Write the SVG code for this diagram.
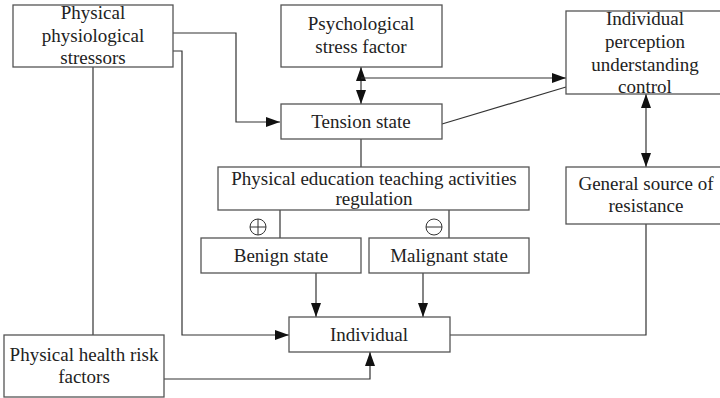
<svg xmlns="http://www.w3.org/2000/svg" width="720" height="398" viewBox="0 0 720 398">
<defs>
<marker id="ah" viewBox="0 0 14 10" refX="14" refY="5" markerWidth="14" markerHeight="10" markerUnits="userSpaceOnUse" orient="auto-start-reverse">
<path d="M0,0 L14,5 L0,10 z" fill="#111"/>
</marker>
</defs>
<rect width="720" height="398" fill="#fff"/>
<g id="connectors" fill="none" stroke="#333" stroke-width="1.2">
<polyline points="173,33 236,33 236,122 280,122" marker-end="url(#ah)"/>
<polyline points="173,51 182,51 182,335 289,335" marker-end="url(#ah)"/>
<line x1="93" y1="67" x2="93" y2="335"/>
<line x1="361" y1="67" x2="361" y2="104" marker-start="url(#ah)" marker-end="url(#ah)"/>
<line x1="361" y1="78" x2="566" y2="78" marker-end="url(#ah)"/>
<line x1="442" y1="124" x2="566" y2="87"/>
<line x1="361" y1="139" x2="361" y2="167"/>
<line x1="280" y1="210" x2="280" y2="238"/>
<line x1="449" y1="210" x2="449" y2="238"/>
<line x1="316" y1="273" x2="316" y2="317" marker-end="url(#ah)"/>
<line x1="423" y1="273" x2="423" y2="317" marker-end="url(#ah)"/>
<line x1="646" y1="94" x2="646" y2="167" marker-start="url(#ah)" marker-end="url(#ah)"/>
<polyline points="450,335 646,335 646,224"/>
<polyline points="164,379 370,379 370,352" marker-end="url(#ah)"/>
<g id="plus" stroke-width="1">
<circle cx="258" cy="227" r="8"/>
<line x1="250" y1="227" x2="266" y2="227"/>
<line x1="258" y1="219" x2="258" y2="235"/>
</g>
<g id="minus" stroke-width="1">
<circle cx="434" cy="227" r="8"/>
<line x1="426" y1="227" x2="442" y2="227"/>
</g>
</g>
<g id="boxes" fill="#fff" stroke="#555" stroke-width="1.3">
<rect id="b-physical" x="13" y="5" width="160" height="62"/>
<rect id="b-psych" x="281" y="5" width="161" height="62"/>
<rect id="b-perception" x="566" y="11" width="160" height="83"/>
<rect id="b-tension" x="281" y="104" width="161" height="35"/>
<rect id="b-pe" x="218" y="167" width="311" height="43"/>
<rect id="b-benign" x="201" y="238" width="160" height="35"/>
<rect id="b-malignant" x="369" y="238" width="160" height="35"/>
<rect id="b-general" x="566" y="167" width="160" height="57"/>
<rect id="b-individual" x="289" y="317" width="161" height="35"/>
<rect id="b-health" x="4" y="335" width="160" height="62"/>
</g>
<g id="labels" fill="#222" text-anchor="middle">
<g id="n-physical">
<text font-family="Liberation Serif" font-size="19" x="93" y="19">Physical</text>
<text font-family="Liberation Serif" font-size="19" x="93" y="42">physiological</text>
<text font-family="Liberation Serif" font-size="19" x="93" y="64">stressors</text>
</g>
<g id="n-psych">
<text font-family="Liberation Serif" font-size="19" x="361" y="30">Psychological</text>
<text font-family="Liberation Serif" font-size="19" x="361" y="53">stress factor</text>
</g>
<g id="n-perception">
<text font-family="Liberation Serif" font-size="19" x="645" y="25">Individual</text>
<text font-family="Liberation Serif" font-size="19" x="645" y="48">perception</text>
<text font-family="Liberation Serif" font-size="19" x="645" y="71">understanding</text>
<text font-family="Liberation Serif" font-size="19" x="645" y="93">control</text>
</g>
<g id="n-tension">
<text font-family="Liberation Serif" font-size="19" x="361" y="128">Tension state</text>
</g>
<g id="n-pe">
<text font-family="Liberation Serif" font-size="19" x="374" y="185">Physical education teaching activities</text>
<text font-family="Liberation Serif" font-size="19" x="374" y="205">regulation</text>
</g>
<g id="n-benign">
<text font-family="Liberation Serif" font-size="19" x="281" y="262">Benign state</text>
</g>
<g id="n-malignant">
<text font-family="Liberation Serif" font-size="19" x="449" y="262">Malignant state</text>
</g>
<g id="n-general">
<text font-family="Liberation Serif" font-size="19" x="646" y="190">General source of</text>
<text font-family="Liberation Serif" font-size="19" x="646" y="212">resistance</text>
</g>
<g id="n-individual">
<text font-family="Liberation Serif" font-size="19" x="369" y="341">Individual</text>
</g>
<g id="n-health">
<text font-family="Liberation Serif" font-size="19" x="84" y="361">Physical health risk</text>
<text font-family="Liberation Serif" font-size="19" x="84" y="383">factors</text>
</g>
</g>
</svg>
